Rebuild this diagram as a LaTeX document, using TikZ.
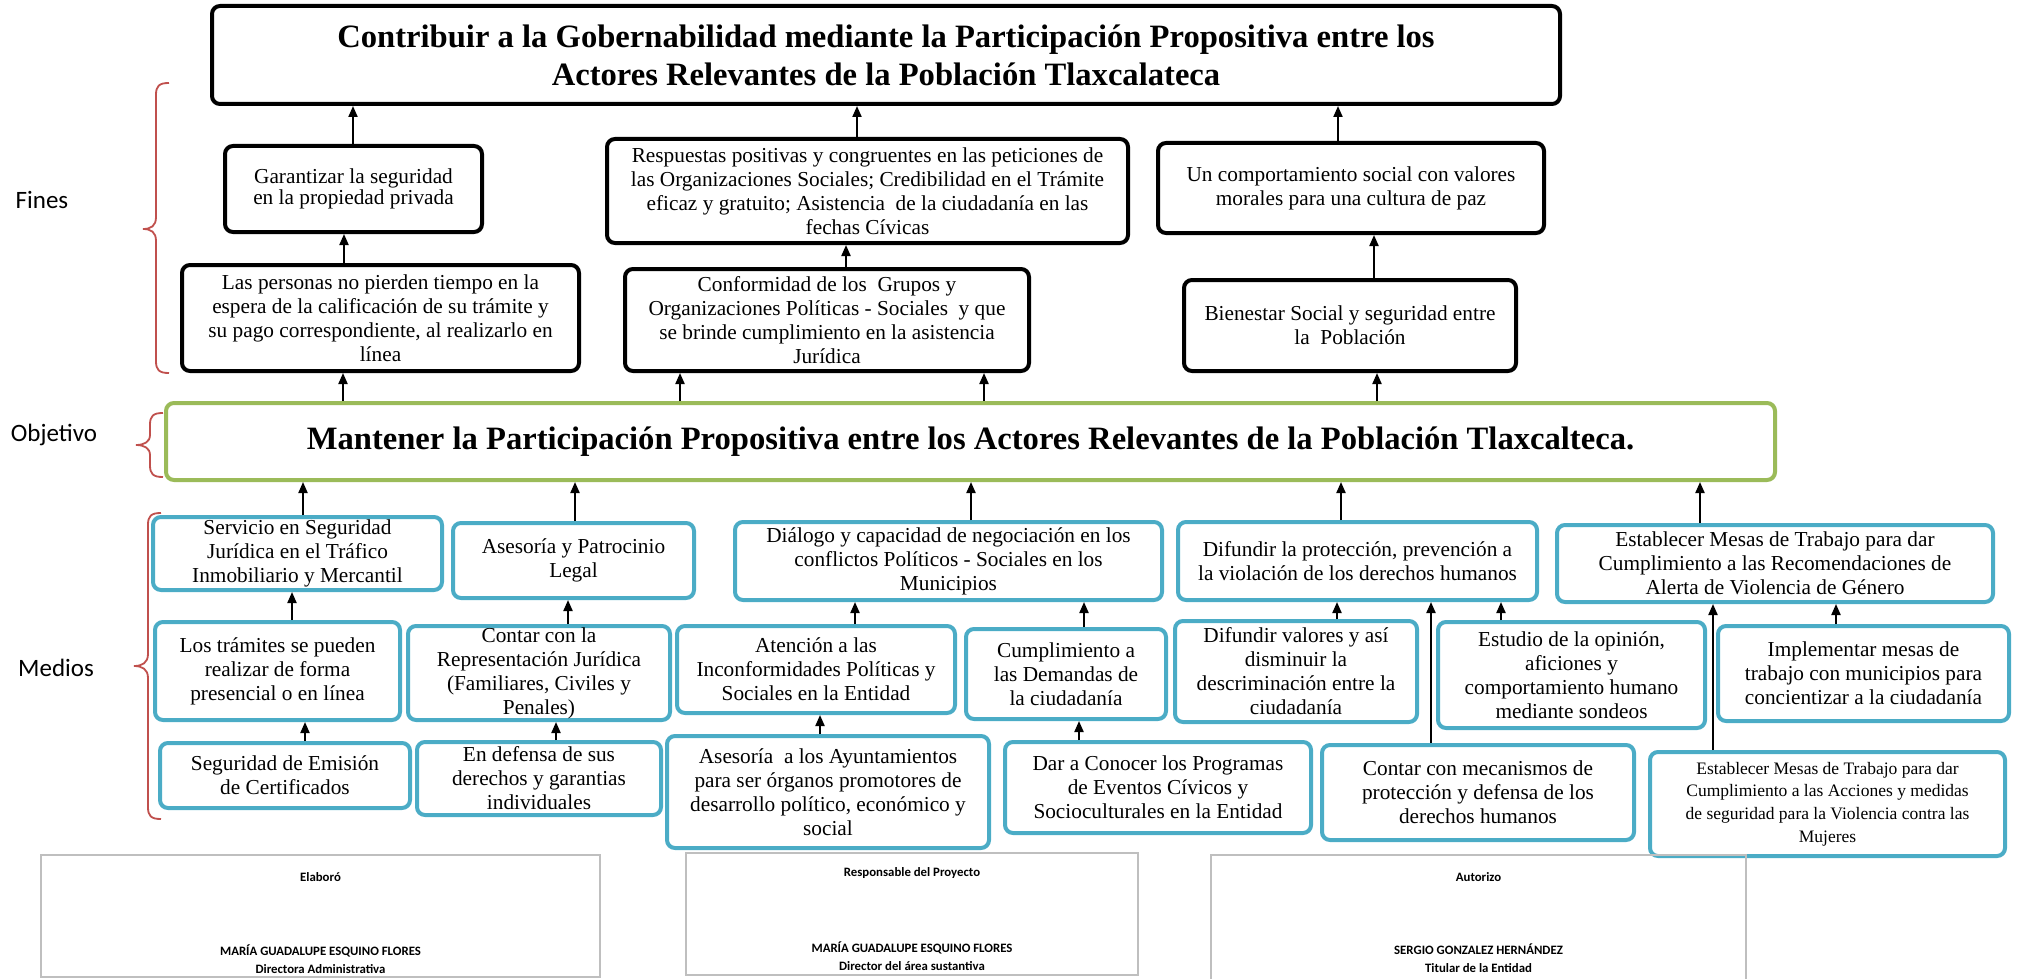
\documentclass[tikz,border=0pt]{standalone}
\usepackage{fontspec}
\setmainfont{Liberation Serif}
\newfontfamily\calibri{Carlito}
\usepackage{xcolor}
\usetikzlibrary{arrows.meta}

\definecolor{azulcaja}{HTML}{4BACC6}
\definecolor{verdecaja}{HTML}{9BBB59}
\definecolor{rojollave}{HTML}{C0504D}
\definecolor{grisfirma}{HTML}{BFBFBF}

\begin{document}
\begin{tikzpicture}[x=0.5pt, y=-0.5pt,
    negra/.style={draw=black, line width=2pt, rounded corners=4pt, inner sep=0pt, align=center, font=\fontsize{10.65}{12}\selectfont},
    azul/.style={negra, draw=azulcaja},
    flecha/.style={line width=1pt, -{Triangle[length=5.5pt, width=4.5pt]}},
    llave/.style={draw=rojollave, line width=0.9pt},
    etiqueta/.style={font=\calibri\fontsize{12.5}{15}\selectfont},
    firmacaja/.style={draw=grisfirma, line width=0.9pt},
    firma/.style={font=\calibri\bfseries\fontsize{6.4}{9}\selectfont, align=center}]

    \useasboundingbox (0,0) rectangle (2019,979);

    % fin
    \node[negra, minimum width=674pt, minimum height=49pt, font=\bfseries\fontsize{16.3}{19}\selectfont] (fin) at (886,55)
        {Contribuir a la Gobernabilidad mediante la Participación Propositiva entre los\\Actores Relevantes de la Población Tlaxcalateca};

    % fines
    \node[negra, minimum width=128.5pt, minimum height=43pt, font=\fontsize{10.65}{9.5}\selectfont] (fa1) at (353.5,189)
        {Garantizar la seguridad\\en la propiedad privada};
    \node[negra, minimum width=260.5pt, minimum height=52pt] (fa2) at (867.5,191)
        {Respuestas positivas y congruentes en las peticiones de\\las Organizaciones Sociales; Credibilidad en el Trámite\\eficaz y gratuito; Asistencia\ \ de la ciudadanía en las\\fechas Cívicas};
    \node[negra, minimum width=193pt, minimum height=45pt] (fa3) at (1351,188)
        {Un comportamiento social con valores\\morales para una cultura de paz};
    \node[negra, minimum width=198.5pt, minimum height=53pt] (fb1) at (380.5,318)
        {Las personas no pierden tiempo en la\\espera de la calificación de su trámite y\\su pago correspondiente, al realizarlo en\\línea};
    \node[negra, minimum width=202pt, minimum height=51pt] (fb2) at (827,320)
        {Conformidad de los\ \ Grupos y\\Organizaciones Políticas - Sociales\ \ y que\\se brinde cumplimiento en la asistencia\\Jurídica};
    \node[negra, minimum width=166pt, minimum height=45.5pt] (fb3) at (1350,325.5)
        {Bienestar Social y seguridad entre\\la\ \ Población};

    % objetivo
    \node[negra, draw=verdecaja, minimum width=804.5pt, minimum height=38.5pt, font=\bfseries\fontsize{16.3}{19}\selectfont] (obj) at (970.5,441.5)
        {Mantener la Participación Propositiva entre los Actores Relevantes de la Población Tlaxcalteca.};

    % medios
    \node[azul, minimum width=144.5pt, minimum height=36.5pt] (ma1) at (297.5,553.5)
        {Servicio en Seguridad\\Jurídica en el Tráfico\\Inmobiliario y Mercantil};
    \node[azul, minimum width=120.5pt, minimum height=37.5pt] (ma2) at (573.5,560.5)
        {Asesoría y Patrocinio\\Legal};
    \node[azul, minimum width=213.5pt, minimum height=39pt] (ma3) at (948.5,561)
        {Diálogo y capacidad de negociación en los\\conflictos Políticos - Sociales en los\\Municipios};
    \node[azul, minimum width=179.5pt, minimum height=39pt] (ma4) at (1357.5,561)
        {Difundir la protección, prevención a\\la violación de los derechos humanos};
    \node[azul, minimum width=218pt, minimum height=38.5pt] (ma5) at (1775,563.5)
        {Establecer Mesas de Trabajo para dar\\Cumplimiento a las Recomendaciones de\\Alerta de Violencia de Género};

    \node[azul, minimum width=122.5pt, minimum height=49pt] (mb1) at (277.5,671)
        {Los trámites se pueden\\realizar de forma\\presencial o en línea};
    \node[azul, minimum width=131pt, minimum height=47pt] (mb2) at (539,673)
        {Contar con la\\Representación Jurídica\\(Familiares, Civiles y\\Penales)};
    \node[azul, minimum width=139pt, minimum height=43.5pt] (mb3) at (816,669.5)
        {Atención a las\\Inconformidades Políticas y\\Sociales en la Entidad};
    \node[azul, minimum width=100pt, minimum height=45pt] (mb4) at (1066,674)
        {Cumplimiento a\\las Demandas de\\la ciudadanía};
    \node[azul, minimum width=121pt, minimum height=50.5pt] (mb5) at (1296,671.5)
        {Difundir valores y así\\disminuir la\\descriminación entre la\\ciudadanía};
    \node[azul, minimum width=133.5pt, minimum height=53pt] (mb6) at (1571.5,675)
        {Estudio de la opinión,\\aficiones y\\comportamiento humano\\mediante sondeos};
    \node[azul, minimum width=145.5pt, minimum height=47.5pt] (mb7) at (1863.5,673.5)
        {Implementar mesas de\\trabajo con municipios para\\concientizar a la ciudadanía};

    \node[azul, minimum width=125pt, minimum height=32.5pt] (mc1) at (285,775.5)
        {Seguridad de Emisión\\de Certificados};
    \node[azul, minimum width=122pt, minimum height=36.5pt] (mc2) at (539,778.5)
        {En defensa de sus\\derechos y garantias\\individuales};
    \node[azul, minimum width=161pt, minimum height=56pt] (mc3) at (828,792)
        {Asesoría\ \ a los Ayuntamientos\\para ser órganos promotores de\\desarrollo político, económico y\\social};
    \node[azul, minimum width=153pt, minimum height=45.5pt] (mc4) at (1158,787.5)
        {Dar a Conocer los Programas\\de Eventos Cívicos y\\Socioculturales en la Entidad};
    \node[azul, minimum width=156pt, minimum height=47.5pt] (mc5) at (1478,792.5)
        {Contar con mecanismos de\\protección y defensa de los\\derechos humanos};
    \node[azul, minimum width=177.5pt, minimum height=52pt, font=\fontsize{8.75}{11.4}\selectfont] (mc6) at (1827.5,804)
        {Establecer Mesas de Trabajo para dar\\Cumplimiento a las Acciones y medidas\\de seguridad para la Violencia contra las\\Mujeres};

    % flechas
    \draw[flecha] (fa1.north -| 353,0) -- (fin.south -| 353,0);
    \draw[flecha] (fa2.north -| 857,0) -- (fin.south -| 857,0);
    \draw[flecha] (fa3.north -| 1338,0) -- (fin.south -| 1338,0);
    \draw[flecha] (fb1.north -| 344,0) -- (fa1.south -| 344,0);
    \draw[flecha] (fb2.north -| 846,0) -- (fa2.south -| 846,0);
    \draw[flecha] (fb3.north -| 1374,0) -- (fa3.south -| 1374,0);
    \draw[flecha] (obj.north -| 343,0) -- (fb1.south -| 343,0);
    \draw[flecha] (obj.north -| 680,0) -- (fb2.south -| 680,0);
    \draw[flecha] (obj.north -| 984,0) -- (fb2.south -| 984,0);
    \draw[flecha] (obj.north -| 1377,0) -- (fb3.south -| 1377,0);

    \draw[flecha] (ma1.north -| 303,0) -- (obj.south -| 303,0);
    \draw[flecha] (ma2.north -| 575,0) -- (obj.south -| 575,0);
    \draw[flecha] (ma3.north -| 971,0) -- (obj.south -| 971,0);
    \draw[flecha] (ma4.north -| 1341,0) -- (obj.south -| 1341,0);
    \draw[flecha] (ma5.north -| 1700,0) -- (obj.south -| 1700,0);

    \draw[flecha] (mb1.north -| 292,0) -- (ma1.south -| 292,0);
    \draw[flecha] (mb2.north -| 568,0) -- (ma2.south -| 568,0);
    \draw[flecha] (mb3.north -| 855,0) -- (ma3.south -| 855,0);
    \draw[flecha] (mb4.north -| 1084,0) -- (ma3.south -| 1084,0);
    \draw[flecha] (mb5.north -| 1337,0) -- (ma4.south -| 1337,0);
    \draw[flecha] (mb6.north -| 1501,0) -- (ma4.south -| 1501,0);
    \draw[flecha] (mb7.north -| 1836,0) -- (ma5.south -| 1836,0);

    \draw[flecha] (mc1.north -| 305,0) -- (mb1.south -| 305,0);
    \draw[flecha] (mc2.north -| 556,0) -- (mb2.south -| 556,0);
    \draw[flecha] (mc3.north -| 820,0) -- (mb3.south -| 820,0);
    \draw[flecha] (mc4.north -| 1079,0) -- (mb4.south -| 1079,0);
    \draw[flecha] (mc5.north -| 1431,0) -- (ma4.south -| 1431,0);
    \draw[flecha] (mc6.north -| 1713,0) -- (ma5.south -| 1713,0);

    % llaves
    \draw[llave] (169,83) .. controls (159,83) and (156,86) .. (156,95) -- (156,217)
        .. controls (156,226) and (151,229) .. (143,229) .. controls (151,229) and (156,232) .. (156,241)
        -- (156,361) .. controls (156,370) and (159,373) .. (169,373);
    \draw[llave] (163,413) .. controls (153,413) and (150,416) .. (150,425) -- (150,435)
        .. controls (150,442) and (144,445) .. (136,445) .. controls (144,445) and (150,448) .. (150,455)
        -- (150,465) .. controls (150,474) and (153,477) .. (163,477);
    \draw[llave] (161,513) .. controls (151,513) and (148,516) .. (148,525) -- (148,654)
        .. controls (148,663) and (142,666) .. (134,666) .. controls (142,666) and (148,669) .. (148,678)
        -- (148,807) .. controls (148,816) and (151,819) .. (161,819);

    \node[etiqueta] (fines) at (42,200) {Fines};
    \node[etiqueta] (objetivo) at (54,435) {Objetivo};
    \node[etiqueta] (medios) at (56,668) {Medios};

    % firmas
    \draw[firmacaja] (41,855) rectangle (600,977);
    \draw[firmacaja] (686,853) rectangle (1138,975);
    \draw[firmacaja] (1211,979) -- (1211,855) -- (1746,855) -- (1746,979);

    \node[firma] (elab) at (320.5,877) {Elaboró};
    \node[firma] (elabnom) at (320.5,959) {MARÍA GUADALUPE ESQUINO FLORES\\Directora Administrativa};
    \node[firma] (resp) at (912,873) {Responsable del Proyecto};
    \node[firma] (respnom) at (912,956) {MARÍA GUADALUPE ESQUINO FLORES\\Director del área sustantiva};
    \node[firma] (aut) at (1478.5,877) {Autorizo};
    \node[firma] (autnom) at (1478.5,958) {SERGIO GONZALEZ HERNÁNDEZ\\Titular de la Entidad};
\end{tikzpicture}
\end{document}
